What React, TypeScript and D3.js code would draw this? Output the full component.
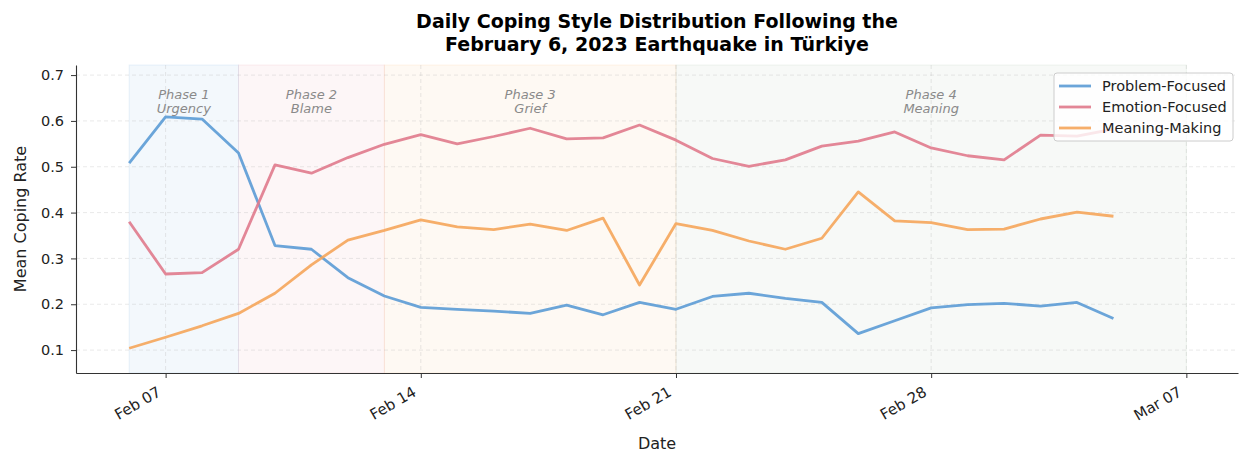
import React, { useEffect, useRef } from 'react';
import * as d3 from 'd3';

const dates = [
  '2023-02-06', '2023-02-07', '2023-02-08', '2023-02-09', '2023-02-10', '2023-02-11', '2023-02-12',
  '2023-02-13', '2023-02-14', '2023-02-15', '2023-02-16', '2023-02-17', '2023-02-18', '2023-02-19',
  '2023-02-20', '2023-02-21', '2023-02-22', '2023-02-23', '2023-02-24', '2023-02-25', '2023-02-26',
  '2023-02-27', '2023-02-28', '2023-03-01', '2023-03-02', '2023-03-03', '2023-03-04', '2023-03-05'
];

const problemFocused = [
  0.508, 0.609, 0.604, 0.530, 0.328, 0.320, 0.258, 0.218, 0.193,
  0.189, 0.185, 0.180, 0.198, 0.177, 0.204, 0.189, 0.217, 0.224,
  0.213, 0.204, 0.136, 0.164, 0.192, 0.199, 0.202, 0.196, 0.204, 0.169
];

const emotionFocused = [
  0.380, 0.266, 0.269, 0.320, 0.504, 0.486, 0.520, 0.549, 0.570,
  0.550, 0.566, 0.584, 0.561, 0.563, 0.591, 0.558, 0.518, 0.501,
  0.515, 0.545, 0.556, 0.576, 0.541, 0.524, 0.515, 0.569, 0.567, 0.582
];

const meaningMaking = [
  0.104, 0.128, 0.153, 0.180, 0.224, 0.286, 0.340, 0.361, 0.384,
  0.369, 0.363, 0.375, 0.361, 0.388, 0.242, 0.376, 0.361, 0.338,
  0.320, 0.344, 0.445, 0.382, 0.378, 0.363, 0.364, 0.386, 0.401, 0.392
];

const seriesNames = ['Problem-Focused', 'Emotion-Focused', 'Meaning-Making'];
const seriesColors = ['#5b9bd5', '#e07a8c', '#f5a55a'];

const phaseNames = ['Phase 1', 'Phase 2', 'Phase 3', 'Phase 4'];
const phaseLabels = ['Urgency', 'Blame', 'Grief', 'Meaning'];
const phaseStarts = ['2023-02-06', '2023-02-09', '2023-02-13', '2023-02-21'];
const phaseEnds = ['2023-02-09', '2023-02-13', '2023-02-21', '2023-03-07'];
const phaseColors = ['#5b9bd5', '#e07a8c', '#f5a55a', '#8fae8f'];

const xTicks = ['2023-02-07', '2023-02-14', '2023-02-21', '2023-02-28', '2023-03-07'];
const yTicks = [0.1, 0.2, 0.3, 0.4, 0.5, 0.6, 0.7];

const parse = d3.timeParse('%Y-%m-%d');

function App() {
  const ref = useRef<SVGSVGElement>(null);

  useEffect(() => {
    document.body.style.margin = '0';
    const W = 1239, H = 455;
    const margin = { top: 65, right: 1, bottom: 82, left: 76 };
    const width = W - margin.left - margin.right;
    const height = H - margin.top - margin.bottom;

    const svg = d3.select(ref.current);
    svg.selectAll('*').remove();
    const font = 'DejaVu Sans, sans-serif';

    // Feb 07 sits 89px right of the axis, 36.5px per day
    const day = 36.5;
    const feb7 = parse('2023-02-07')!;
    const x0 = d3.timeHour.offset(feb7, -Math.round((89 / day) * 24));
    const x1 = d3.timeHour.offset(feb7, Math.round(((width - 89) / day) * 24));
    const x = d3.scaleTime().domain([x0, x1]).range([0, width]);

    const y = d3.scaleLinear().domain([0.05, 0.722]).range([height, 0]);

    const g = svg.append('g').attr('transform', `translate(${margin.left},${margin.top})`);

    // phase spans
    phaseNames.forEach((p, i) => {
      const xs = x(parse(phaseStarts[i])!);
      const xe = x(parse(phaseEnds[i])!);
      g.append('rect')
        .attr('x', xs).attr('y', 0)
        .attr('width', xe - xs).attr('height', height)
        .attr('fill', phaseColors[i]).attr('fill-opacity', 0.07)
        .attr('stroke', phaseColors[i]).attr('stroke-opacity', 0.12).attr('stroke-width', 1);
    });

    // grid
    g.append('g').selectAll('line').data(yTicks).enter().append('line')
      .attr('x1', 0).attr('x2', width)
      .attr('y1', d => y(d)).attr('y2', d => y(d))
      .attr('stroke', '#b0b0b0').attr('stroke-opacity', 0.35)
      .attr('stroke-dasharray', '4,3').attr('stroke-width', 0.8);
    g.append('g').selectAll('line').data(xTicks).enter().append('line')
      .attr('x1', d => x(parse(d)!)).attr('x2', d => x(parse(d)!))
      .attr('y1', 0).attr('y2', height)
      .attr('stroke', '#b0b0b0').attr('stroke-opacity', 0.35)
      .attr('stroke-dasharray', '4,3').attr('stroke-width', 0.8);

    // phase labels
    phaseNames.forEach((p, i) => {
      const xc = (x(parse(phaseStarts[i])!) + x(parse(phaseEnds[i])!)) / 2;
      const t = g.append('text')
        .attr('x', xc).attr('y', 34)
        .attr('text-anchor', 'middle')
        .attr('font-family', font).attr('font-size', 13)
        .attr('font-style', 'italic').attr('fill', '#8a8a8a');
      t.append('tspan').attr('x', xc).attr('dy', 0).text(p);
      t.append('tspan').attr('x', xc).attr('dy', 14).text(phaseLabels[i]);
    });

    // lines
    const allSeries = [problemFocused, emotionFocused, meaningMaking];
    const line = d3.line<number>()
      .x((d, i) => x(parse(dates[i])!))
      .y(d => y(d));
    allSeries.forEach((s, i) => {
      g.append('path')
        .datum(s)
        .attr('d', line)
        .attr('fill', 'none')
        .attr('stroke', seriesColors[i])
        .attr('stroke-width', 2.8)
        .attr('stroke-linejoin', 'round')
        .attr('stroke-opacity', 0.9);
    });

    // axes
    const yAxis = g.append('g')
      .call(d3.axisLeft(y).tickValues(yTicks).tickFormat(d3.format('.1f')).tickSize(5).tickSizeOuter(0).tickPadding(7));
    yAxis.select('.domain').attr('stroke', '#333').attr('stroke-width', 1.1);
    yAxis.selectAll('.tick line').attr('stroke', '#333');
    yAxis.selectAll('.tick text').attr('font-family', font).attr('font-size', 14.5).attr('fill', '#222');

    const xAxis = g.append('g')
      .attr('transform', `translate(0,${height})`)
      .call(d3.axisBottom(x).tickValues(xTicks.map(d => parse(d)!)).tickFormat(d3.timeFormat('%b %d') as any).tickSize(5).tickSizeOuter(0));
    xAxis.select('.domain').attr('stroke', '#333').attr('stroke-width', 1.1);
    xAxis.selectAll('.tick line').attr('stroke', '#333');
    xAxis.selectAll('.tick text')
      .attr('font-family', font).attr('font-size', 15).attr('fill', '#222')
      .attr('text-anchor', 'end')
      .attr('dy', null)
      .attr('y', 0)
      .attr('transform', 'translate(-4,22) rotate(-30)');

    // axis labels
    svg.append('text')
      .attr('x', margin.left + width / 2).attr('y', 449)
      .attr('text-anchor', 'middle')
      .attr('font-family', font).attr('font-size', 16).attr('fill', '#222')
      .text('Date');
    svg.append('text')
      .attr('transform', `translate(26,${margin.top + height / 2}) rotate(-90)`)
      .attr('text-anchor', 'middle')
      .attr('font-family', font).attr('font-size', 16).attr('fill', '#222')
      .text('Mean Coping Rate');

    // title
    const title = svg.append('text')
      .attr('x', margin.left + width / 2).attr('y', 28)
      .attr('text-anchor', 'middle')
      .attr('font-family', font).attr('font-size', 19).attr('font-weight', 'bold').attr('fill', '#000');
    title.append('tspan').attr('x', margin.left + width / 2).attr('dy', 0).text('Daily Coping Style Distribution Following the');
    title.append('tspan').attr('x', margin.left + width / 2).attr('dy', 23).text('February 6, 2023 Earthquake in Türkiye');

    // legend
    const lg = svg.append('g').attr('transform', 'translate(1054,73)');
    lg.append('rect')
      .attr('width', 179).attr('height', 68).attr('rx', 3)
      .attr('fill', '#fff').attr('fill-opacity', 0.8)
      .attr('stroke', '#cccccc');
    seriesNames.forEach((n, i) => {
      const yy = 13 + i * 21;
      lg.append('line')
        .attr('x1', 5).attr('x2', 37).attr('y1', yy).attr('y2', yy)
        .attr('stroke', seriesColors[i]).attr('stroke-width', 2.8).attr('stroke-opacity', 0.9);
      lg.append('text')
        .attr('x', 48).attr('y', yy + 5)
        .attr('font-family', font).attr('font-size', 14.5).attr('fill', '#222')
        .text(n);
    });
  }, []);

  return <svg ref={ref} width={1239} height={455} style={{ display: 'block' }} />;
}

export default App;
